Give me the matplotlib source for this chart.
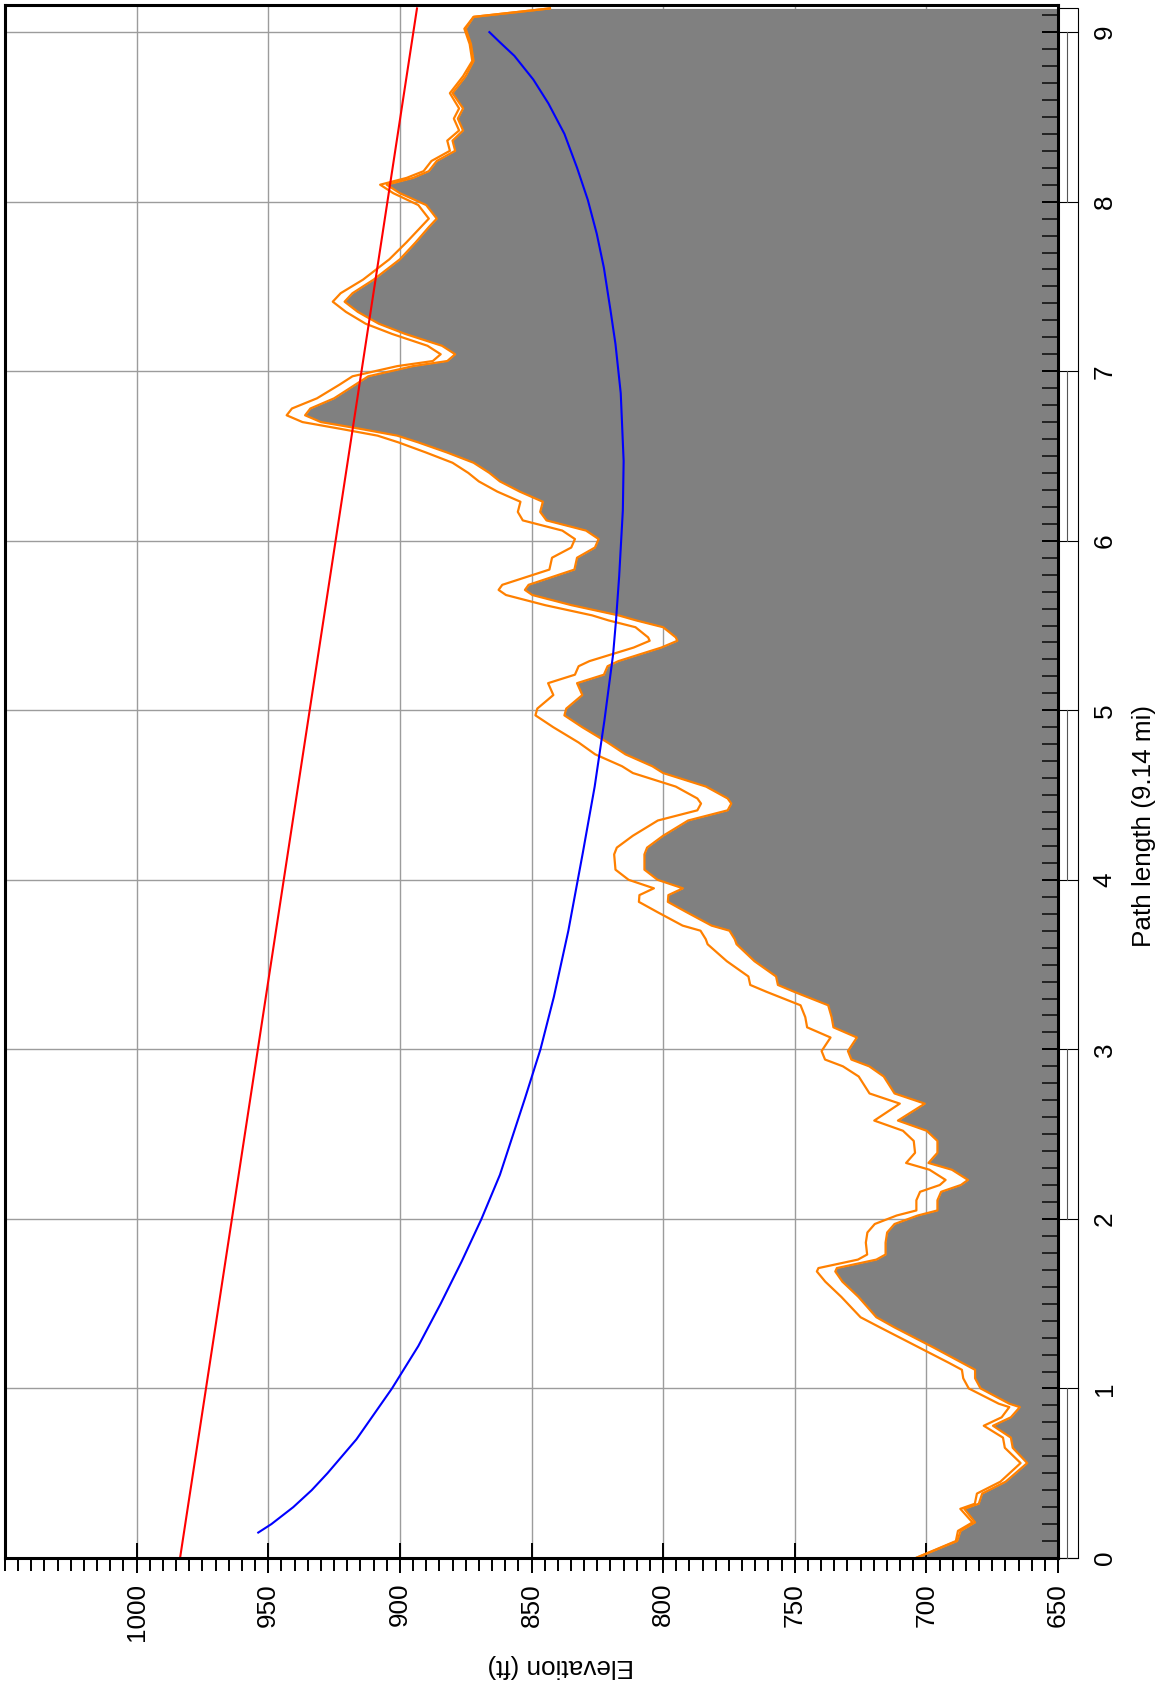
import matplotlib
matplotlib.use("Agg")
import matplotlib.pyplot as plt
import matplotlib.transforms as mtransforms
from matplotlib.patches import Rectangle

plt.rcParams['font.family'] = ['Liberation Sans', 'DejaVu Sans']

# Profile samples: distance along the path (mi) and ground elevation (ft)
path_mi = [
    0.00, 0.10, 0.16, 0.21, 0.29, 0.32, 0.38, 0.45, 0.56, 0.65, 0.71, 0.78, 0.83, 0.89, 0.91,
    1.00, 1.06, 1.11, 1.15, 1.24, 1.36, 1.42, 1.54, 1.63, 1.69, 1.71, 1.76, 1.79, 1.86, 1.92,
    1.97, 2.02, 2.05, 2.11, 2.16, 2.20, 2.23, 2.29, 2.33, 2.39, 2.46, 2.52, 2.58, 2.68, 2.74,
    2.84, 2.90, 2.94, 2.99, 3.07, 3.13, 3.19, 3.26, 3.34, 3.38, 3.43, 3.52, 3.62, 3.65, 3.70,
    3.73, 3.81, 3.87, 3.91, 3.95, 4.00, 4.06, 4.15, 4.19, 4.26, 4.35, 4.41, 4.45, 4.48, 4.55,
    4.63, 4.67, 4.74, 4.81, 4.90, 4.97, 5.01, 5.09, 5.16, 5.21, 5.26, 5.29, 5.37, 5.41, 5.43,
    5.49, 5.53, 5.56, 5.62, 5.68, 5.71, 5.74, 5.83, 5.90, 5.96, 6.01, 6.06, 6.12, 6.17, 6.23,
    6.29, 6.35, 6.40, 6.46, 6.52, 6.58, 6.62, 6.66, 6.70, 6.74, 6.78, 6.84, 6.92, 6.97, 7.03,
    7.06, 7.10, 7.15, 7.22, 7.28, 7.35, 7.41, 7.46, 7.54, 7.60, 7.66, 7.76, 7.85, 7.90, 7.98,
    8.05, 8.10, 8.14, 8.18, 8.24, 8.30, 8.36, 8.42, 8.49, 8.55, 8.64, 8.74, 8.83, 8.93, 9.02,
    9.09, 9.14,
]
terrain_ft = [
    704.0, 688.3, 687.0, 681.5, 685.6, 680.1, 678.8, 669.9, 661.7, 667.2, 667.9, 674.7, 667.9, 664.5, 668.5,
    679.4, 681.5, 681.5, 686.3, 697.1, 712.1, 719.0, 725.8, 731.9, 734.6, 734.0, 719.0, 715.5, 715.5, 714.9,
    712.1, 703.3, 695.8, 695.8, 694.4, 686.9, 684.2, 690.3, 699.2, 695.8, 695.8, 699.9, 710.8, 700.6, 712.1,
    716.2, 721.7, 728.5, 729.8, 726.4, 735.3, 736.0, 737.3, 750.3, 756.4, 757.1, 765.3, 772.1, 772.8, 774.8,
    781.6, 791.2, 798.2, 798.0, 792.5, 802.1, 807.1, 807.1, 806.1, 800.0, 790.5, 775.5, 774.1, 775.5, 783.7,
    800.0, 804.1, 814.3, 821.1, 830.7, 837.5, 836.8, 830.7, 832.7, 822.5, 821.1, 817.0, 800.7, 794.6, 795.2,
    800.0, 810.2, 817.0, 834.8, 849.7, 852.5, 851.1, 833.7, 832.7, 825.9, 824.5, 829.3, 844.3, 846.7, 845.7,
    854.5, 862.0, 866.0, 872.0, 882.0, 893.0, 901.0, 915.0, 930.0, 936.0, 934.0, 925.0, 917.0, 912.0, 895.0,
    882.0, 879.0, 884.0, 898.0, 908.0, 916.0, 921.0, 918.0, 910.0, 905.0, 900.0, 894.0, 889.0, 886.0, 890.0,
    900.0, 905.0, 895.0, 889.0, 886.0, 879.0, 880.0, 876.0, 878.0, 876.0, 880.0, 875.0, 872.0, 873.0, 875.0,
    872.0, 843.0,
]
# Extra earth-bulge height between the two k-factor profiles (ft)
bulge_gap_ft = [
    0.0, 0.5, 1.0, 1.0, 1.5, 1.5, 2.0, 2.0, 2.5, 3.0, 3.0, 3.5, 3.5, 4.0, 4.0,
    4.5, 4.5, 5.0, 5.0, 5.5, 5.5, 6.0, 6.5, 6.5, 7.0, 7.0, 7.0, 7.0, 7.5, 7.5,
    7.5, 8.0, 8.0, 8.0, 8.0, 8.0, 8.5, 8.5, 8.5, 8.5, 9.0, 9.0, 9.0, 9.5, 9.5,
    9.5, 10.0, 10.0, 10.0, 10.0, 10.0, 10.0, 10.5, 10.5, 10.5, 10.5, 10.5, 11.0, 11.0, 11.0,
    11.0, 11.0, 11.0, 11.0, 11.0, 11.0, 11.0, 11.5, 11.5, 11.5, 11.5, 11.5, 11.5, 11.5, 11.5,
    11.5, 11.5, 11.5, 11.0, 11.0, 11.0, 11.0, 11.0, 11.0, 11.0, 11.0, 11.0, 10.5, 10.5, 10.5,
    10.5, 10.5, 10.0, 10.0, 10.0, 10.0, 10.0, 9.5, 9.5, 9.0, 9.0, 9.0, 9.0, 8.5, 8.5,
    8.5, 8.0, 8.0, 8.0, 8.0, 7.5, 7.5, 7.5, 7.0, 7.0, 7.0, 6.5, 6.0, 6.0, 6.0,
    5.5, 5.5, 5.5, 5.0, 5.0, 4.5, 4.5, 4.5, 4.0, 4.0, 4.0, 3.5, 3.0, 3.0, 3.0,
    2.5, 2.5, 2.5, 2.0, 2.0, 2.0, 2.0, 1.5, 1.5, 1.5, 1.0, 1.0, 0.5, 0.5, 0.5,
    0.0, 0.0,
]

# Lower edge of the first Fresnel zone
fresnel_path_mi = [0.15, 0.20, 0.30, 0.40, 0.50, 0.70, 1.00, 1.25, 1.50, 1.75, 2.00, 2.26, 2.71, 3.00,
                   3.31, 3.70, 4.16, 4.55, 4.94, 5.33, 5.53, 5.79, 6.18, 6.47, 6.87, 7.16, 7.36, 7.61,
                   7.81, 8.01, 8.20, 8.40, 8.58, 8.72, 8.86, 8.94, 9.00]
fresnel_ft = [953.8, 948.8, 940.5, 933.5, 927.5, 916.5, 903.0, 893.0, 884.5, 876.5, 869.0, 862.0, 852.5,
              846.6, 841.5, 836.0, 830.5, 826.0, 822.3, 819.0, 817.9, 816.7, 815.3, 815.0, 816.1, 818.1,
              820.0, 822.5, 825.2, 828.6, 832.7, 837.5, 843.6, 849.3, 856.5, 862.0, 866.0]

# Line of sight between the two antennas
los_path_mi = [0.0, 9.14]
los_ft = [983.5, 893.5]

elev_ticks = [650, 700, 750, 800, 850, 900, 950, 1000]
elev_minor = list(range(650, 1051, 5))
dist_ticks = [0, 1, 2, 3, 4, 5, 6, 7, 8, 9]
dist_minor = [i / 10 for i in range(0, 92)]

W, H = 1157, 1684
fig = plt.figure(figsize=(W / 100, H / 100), dpi=100)
ax = fig.add_axes([5 / W, (H - 1558) / H, (1058 - 5) / W, (1558 - 5) / H])
ax.set_xlim(1050, 650)
ax.set_ylim(0, 9.16)

grid_kw = dict(color='#9c9c9c', lw=1.0, zorder=0.5)
for e in elev_ticks:
    ax.axvline(e, **grid_kw)
for d in dist_ticks:
    ax.axhline(d, **grid_kw)

orange = '#ff8000'
outer_ft = [t + g for t, g in zip(terrain_ft, bulge_gap_ft)]
ax.fill_betweenx(path_mi, terrain_ft, 650, color='#808080', lw=0, zorder=1)
ax.plot(outer_ft, path_mi, color=orange, lw=1.6, zorder=2)
ax.plot(terrain_ft, path_mi, color=orange, lw=1.6, zorder=2)
ax.plot(los_ft, los_path_mi, color='#ff0000', lw=1.5, zorder=2.2)
ax.plot(fresnel_ft, fresnel_path_mi, color='#0000ff', lw=1.5, zorder=2.2)

fs = 18.8
ax.set_xticks(elev_ticks)
ax.set_xticks(elev_minor, minor=True)
ax.set_xticklabels([str(v) for v in elev_ticks], rotation=90, fontsize=fs)
ax.tick_params(axis='x', which='major', direction='inout', length=21, width=1.4,
               pad=7.5, colors='black', top=False, bottom=True)
ax.tick_params(axis='x', which='minor', direction='out', length=9.4, width=1.4,
               top=False, bottom=True)

ax.yaxis.tick_right()
ax.set_yticks(dist_ticks)
ax.set_yticks(dist_minor, minor=True)
ax.set_yticklabels([str(v) for v in dist_ticks], rotation=90, va='center', fontsize=fs)
ax.tick_params(axis='y', which='both', direction='in', length=11.5, width=1.4,
               left=False, right=True, pad=25)
ax.tick_params(axis='y', which='minor', colors='#222222')

for sp in ax.spines.values():
    sp.set_linewidth(2.2)
    sp.set_zorder(3)

# Alternating distance scale bar beside the right frame
trans = mtransforms.blended_transform_factory(ax.transAxes, ax.transData)
bw = 20 / 1053
ax.add_patch(Rectangle((1.0, 0), bw, 9.14, transform=trans, fill=False,
                       ec='black', lw=0.8, clip_on=False))
for d in dist_ticks:
    ax.plot([1.0, 1.0 + bw], [d, d], transform=trans, color='black', lw=0.8, clip_on=False)
for d in dist_ticks[::2]:
    ax.plot([1.0 + 9 / 1053] * 2, [d, d + 1], transform=trans, color='#555555',
            lw=0.8, clip_on=False)

fig.text(561 / W, 1 - 1666 / H, 'Elevation (ft)', rotation=180, ha='center', va='center', fontsize=fs)
fig.text(1144 / W, 1 - 826 / H, 'Path length (9.14 mi)', rotation=90, ha='center', va='center', fontsize=fs)

fig.savefig('out.png', dpi=100)
